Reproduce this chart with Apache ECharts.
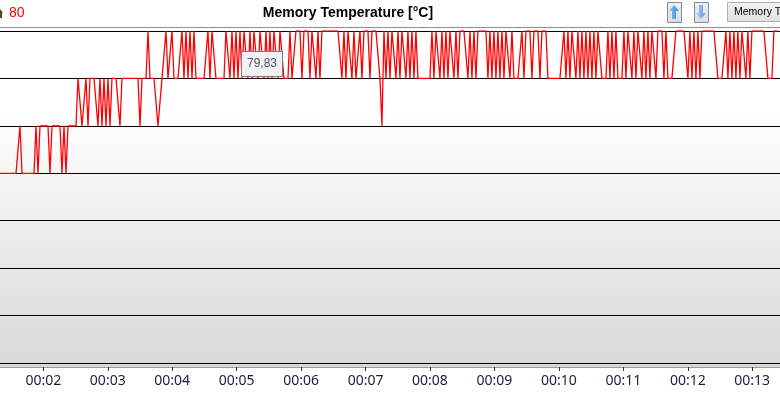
<!DOCTYPE html>
<html>
<head>
<meta charset="utf-8">
<script src="https://cdn.jsdelivr.net/npm/echarts@6/dist/echarts.min.js"></script>
<style>
html,body{margin:0;padding:0;background:#fff;}
#chart{width:780px;height:407px;}
</style>
</head>
<body>
<div id="chart"></div>
<script>
// ---- data ----
const chartTitle = 'Memory Temperature [°C]';
const currentValue = '80';
const hoverValue = '79,83';
const tickValues = [2, 3, 4, 5, 6, 7, 8, 9, 10, 11, 12, 13];
const tickLabels = ['00:02', '00:03', '00:04', '00:05', '00:06', '00:07', '00:08', '00:09', '00:10', '00:11', '00:12', '00:13'];
const timeMin = 1.328;
const timeMax = 13.431;
const sampleStart = 1.328;
const sampleStep = 0.03103;
const tempMin = 73;
const tempMax = 80;
const temps = [
77,77,77,77,77,77,77,77,77,77, 78, 77,77,77,77,77,77,77, 78, 77, 78,78,78,78,78, 77, 78,78,78,78,78,
77, 78, 77, 78,78,78,78,78, 79,79, 78,78, 79, 78, 79,79,79,79, 78, 79,78,79,78,79,78,79, 79,79,79, 78,
79,79,79,79,79,79,79,79,79, 78, 79,79,79, 80, 79,79,79,79, 78,78, 79,79, 80, 79,79, 80, 79,79,79,79, 80,
79,80,79,80,79,80,
79,79,79,79,79,79, 80,79,80,80,79, 79,79,79,79, 80,80,79,80, 79,80,79, 80,79,80,80,79,80,79,
80,80,79,80,80, 79,80,79,80,79,80, 80,79,80,80,79,79, 79,80,79,79, 80,80,80,79,80,80,80,79,80,80,
79,80,79,80, 80,80,80,80,80,80,80,80,80, 79,80,79,80,80,79,80,79,79,80,79,80, 80,80,79,80,80,80,80,79,
78,
80,79,80,79,80,80,79, 80,79,80, 80,79,80,79, 80,79,80,79, 79,79,79,79,79,79,
80,79,80,80,79,80,79,80,79,80,80,79,80,79,80, 80,80,80, 79,80,79,80,79,80, 80,80,80,80,
79,80,79,80,79,80,79,80,79, 80,80,79,80, 79,79,79,79,80,79,80, 80,80,79,80,80,80,79,80,80,80,
79,79,79,79,79,79,79,79, 80,79,80,79,80,80,79,80,79,80,79, 80,79,80,79,80,79,80,80,79,
79,79,80,79, 80,79,80,79, 79,79, 80,79,80,80,79,80,79,80,80,79, 80,79,80,79, 80,80,79,80,80,80,79,80,
79,79,79,79, 80,80,80,80,80,80, 79,80,79,80,79,80,79, 80,80,80,80,80,80,80,80, 79,79,79,79,
80,79,80,79,80,79,80,79, 80,80,79,80,79,80,80, 80,80,80,80,80,80, 79,79,79, 80,80,80
];

const seriesData = temps.map((v, i) => [sampleStart + i * sampleStep, v]);

const chart = echarts.init(document.getElementById('chart'), null, {renderer: 'canvas'});

function arrowButton(x, y, w, h, up, light) {
  const cx = x + w / 2;
  const top = y + 3, bot = y + h - 3;
  const pts = up
    ? [[cx, top], [cx + 5, top + 6], [cx + 2, top + 6], [cx + 2, bot], [cx - 2, bot], [cx - 2, top + 6], [cx - 5, top + 6]]
    : [[cx, bot], [cx + 5, bot - 6], [cx + 2, bot - 6], [cx + 2, top], [cx - 2, top], [cx - 2, bot - 6], [cx - 5, bot - 6]];
  return [
    {type: 'rect', shape: {x: x + 0.5, y: y + 0.5, width: w, height: h},
     style: {fill: new echarts.graphic.LinearGradient(0, 0, 0, 1, [{offset: 0, color: '#eef2f7'}, {offset: 1, color: '#d6dde6'}]), stroke: '#8a8a8a', lineWidth: 1}},
    {type: 'polygon', shape: {points: pts},
     style: {fill: new echarts.graphic.LinearGradient(0, 0, 1, 0, [{offset: 0, color: light ? '#a9cdf2' : '#8fc0f0'}, {offset: 1, color: light ? '#5f9ee0' : '#3d86d8'}])}}
  ];
}

const option = {
  animation: false,
  backgroundColor: '#ffffff',
  grid: {left: 0, right: 0, top: 31, height: 332, containLabel: false},
  xAxis: {
    type: 'value', min: timeMin, max: timeMax, offset: 4,
    axisLine: {show: true, lineStyle: {color: '#9a9a9a', width: 1}},
    axisTick: {show: true, customValues: tickValues, length: 4, lineStyle: {color: '#333333', width: 1}},
    axisLabel: {
      show: true, customValues: tickValues, margin: 7,
      fontFamily: 'Noto Sans', fontSize: 14, color: '#1c1c3c',
      formatter: v => tickLabels[tickValues.indexOf(Math.round(v))]
    },
    splitLine: {show: false}
  },
  yAxis: {
    type: 'value', min: tempMin, max: tempMax, interval: 1,
    axisLine: {show: false}, axisTick: {show: false}, axisLabel: {show: false},
    splitLine: {show: true, lineStyle: {color: '#000000', width: 1}}
  },
  series: [{
    type: 'line', data: seriesData, showSymbol: false, symbol: 'none',
    lineStyle: {color: '#ff0000', width: 1.3}, z: 5
  }],
  graphic: {elements: [
    {type: 'rect', z: -10, shape: {x: 0, y: 31, width: 780, height: 336},
     style: {fill: new echarts.graphic.LinearGradient(0, 0, 0, 1, [{offset: 0, color: '#ffffff'}, {offset: 0.235, color: '#ffffff'}, {offset: 1, color: '#d8d8d8'}])}},
    {type: 'line', z: 1, shape: {x1: 0, y1: 27.5, x2: 780, y2: 27.5}, style: {stroke: '#8e8e8e', lineWidth: 1}},
    {type: 'text', z: 1, x: 348, y: 13, style: {text: chartTitle, fill: '#000000', font: 'bold 14px "Liberation Sans", Arial, sans-serif', textAlign: 'center', textVerticalAlign: 'middle'}},
    {type: 'text', z: 1, x: 9, y: 13, style: {text: currentValue, fill: '#ff0000', font: '14px "Liberation Sans", Arial, sans-serif', textAlign: 'left', textVerticalAlign: 'middle'}},
    {type: 'polygon', z: 1, shape: {points: [[0, 9], [3, 13], [2, 13], [2, 18], [0, 18]]}, style: {fill: '#5a4020'}},
    ...arrowButton(667, 2, 14, 20, true, false),
    ...arrowButton(694, 2, 14, 20, false, true),
    {type: 'rect', z: 1, shape: {x: 727.5, y: 2.5, width: 60, height: 19},
     style: {fill: new echarts.graphic.LinearGradient(0, 0, 0, 1, [{offset: 0, color: '#f2f2f2'}, {offset: 1, color: '#e0e0e0'}]), stroke: '#adadad', lineWidth: 1}},
    {type: 'text', z: 2, x: 734, y: 12.5, style: {text: 'Memory Temperature', fill: '#000000', font: '10.5px "Liberation Sans", Arial, sans-serif', textAlign: 'left', textVerticalAlign: 'middle'}},
    {type: 'rect', z: 50, shape: {x: 241.5, y: 51.5, width: 41, height: 25},
     style: {fill: '#f1f2f7', stroke: '#7a7a7a', lineWidth: 1}},
    {type: 'text', z: 51, x: 262, y: 64, style: {text: hoverValue, fill: '#555555', font: '12px "Liberation Sans", Arial, sans-serif', textAlign: 'center', textVerticalAlign: 'middle'}}
  ]}
};
chart.setOption(option);
</script>
</body>
</html>
